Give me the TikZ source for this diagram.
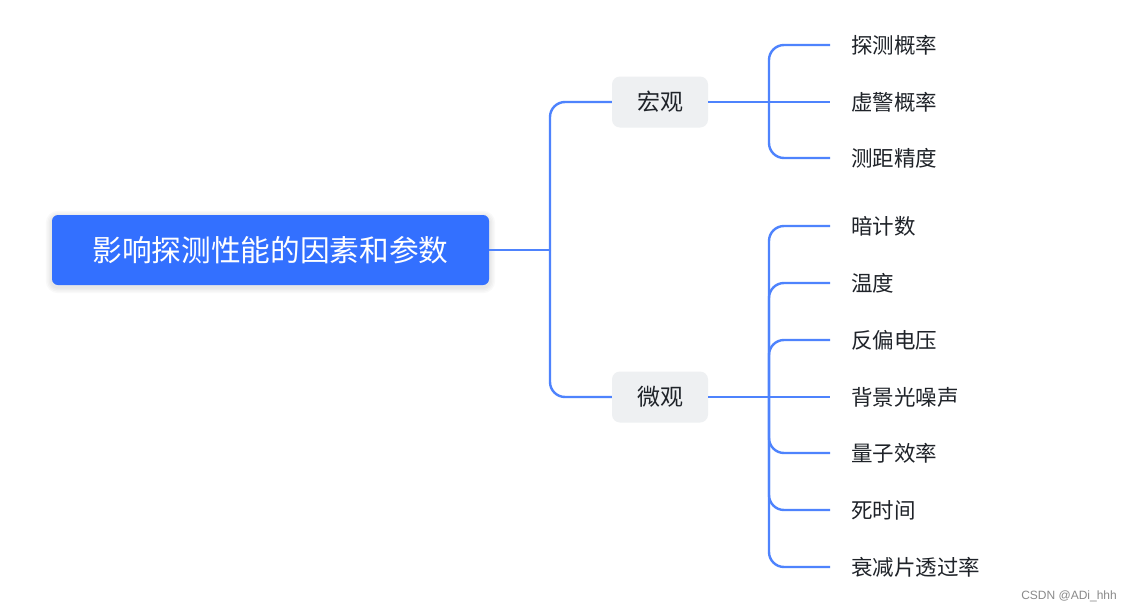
\documentclass[tikz,border=0pt]{standalone}
\usepackage{fontspec}
\setmainfont{Noto Sans CJK SC}
\newfontfamily\latinsans{Liberation Sans}
\usetikzlibrary{backgrounds}
\definecolor{rootblue}{HTML}{3370FF}
\definecolor{linkblue}{HTML}{4E83FD}
\definecolor{midgray}{HTML}{EEF0F2}
\definecolor{txt}{HTML}{1F2329}
\definecolor{sig}{HTML}{8A8A8A}
\tikzset{
  rootbox/.style={fill=rootblue, rounded corners=6pt, minimum width=437pt, minimum height=70pt,
    text=white, font=\fontsize{29.7}{34}\selectfont, inner sep=0pt},
  midbox/.style={fill=midgray, rounded corners=8pt, minimum width=96pt, minimum height=51pt,
    text=txt, font=\fontsize{23}{27}\selectfont, inner sep=0pt},
  leaf/.style={anchor=west, text=txt, font=\fontsize{21.5}{25}\selectfont, inner xsep=21pt, inner ysep=0pt},
  link/.style={draw=linkblue, line width=2.4pt},
  curvelink/.style={link, rounded corners=15pt},
  softshadow/.style={fill=black, fill opacity=0.025},
}
\begin{document}
\begin{tikzpicture}[x=1pt, y=-1pt]
\useasboundingbox (0,0) rectangle (1125,613);

\node[rootbox] (root) at (270.5,250) {影响探测性能的因素和参数};
\node[midbox] (macro) at (660,102) {宏观};
\node[midbox] (micro) at (660,397) {微观};

\node[leaf] (m1) at (830,45) {探测概率};
\node[leaf] (m2) at (830,102) {虚警概率};
\node[leaf] (m3) at (830,158) {测距精度};

\node[leaf] (u1) at (830,226) {暗计数};
\node[leaf] (u2) at (830,283) {温度};
\node[leaf] (u3) at (830,340) {反偏电压};
\node[leaf] (u4) at (830,397) {背景光噪声};
\node[leaf] (u5) at (830,453) {量子效率};
\node[leaf] (u6) at (830,510) {死时间};
\node[leaf] (u7) at (830,567) {衰减片透过率};

\begin{scope}[on background layer]
  \fill[white] (0,0) rectangle (1125,613);
  \foreach \d in {1.5,3,4.5,6}{
    \fill[softshadow, rounded corners=6pt+\d pt]
      ([xshift=-\d pt, yshift=\d pt-2pt]root.north west) rectangle ([xshift=\d pt, yshift=-\d pt-2pt]root.south east);
  }
\end{scope}

\coordinate (trunk) at (550,250);
\coordinate (mb) at (769,102);
\coordinate (ub) at (769,397);

% root to second level
\draw[link] (root.east) -- (root.east -| trunk);
\draw[curvelink] (root.east -| trunk) |- (macro.west);
\draw[curvelink] (root.east -| trunk) |- (micro.west);

% macro leaves
\draw[link] (macro.east) -- (m2.west);
\draw[curvelink] (mb) |- (m1.west);
\draw[curvelink] (mb) |- (m3.west);

% micro leaves
\draw[link] (micro.east) -- (u4.west);
\foreach \n in {u1,u2,u3,u5,u6,u7}{
  \draw[curvelink] (ub) |- (\n.west);
}

\node[text=sig, font=\latinsans\fontsize{12}{14}\selectfont, anchor=east, inner sep=0pt] (sign) at (1117,596) {CSDN @ADi\_hhh};
\end{tikzpicture}
\end{document}
